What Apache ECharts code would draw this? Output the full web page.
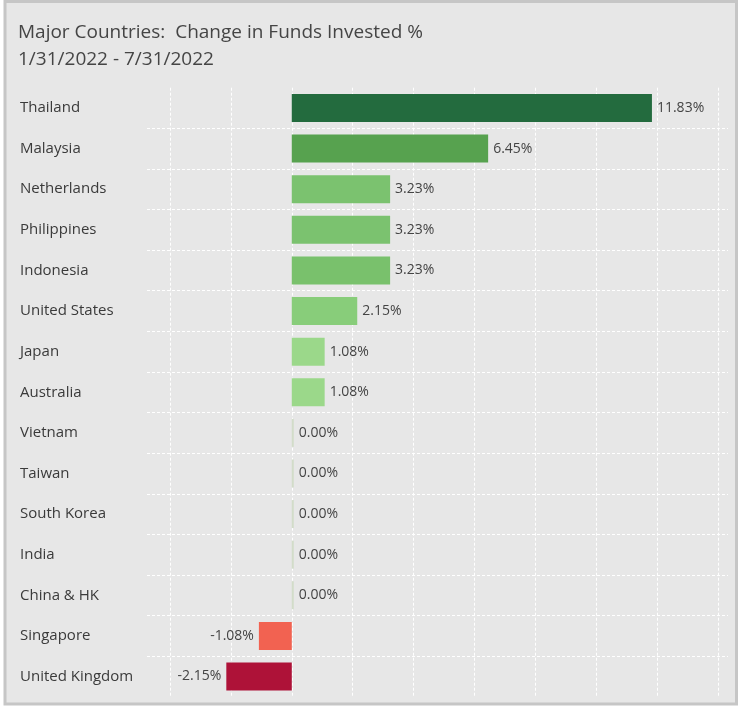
<!DOCTYPE html>
<html><head><meta charset="utf-8">
<script src="https://cdn.jsdelivr.net/npm/echarts@6/dist/echarts.min.js"></script>
<style>html,body{margin:0;padding:0;background:#ffffff;}#c{width:741px;height:707px;}</style>
</head><body><div id="c"></div>
<script>
const categories = ["Thailand","Malaysia","Netherlands","Philippines","Indonesia","United States","Japan","Australia","Vietnam","Taiwan","South Korea","India","China & HK","Singapore","United Kingdom"];
const values = [11.83,6.45,3.23,3.23,3.23,2.15,1.08,1.08,0,0,0,0,0,-1.08,-2.15];
const barColors = ["#236b3e","#57a24f","#7bc26f","#7bc26f","#79c16c","#88cd7a","#9bd88a","#9bd88a","#d2dcc9","#d2dcc9","#d2dcc9","#d2dcc9","#d2dcc9","#f26251","#ae1238"];
const titleLines = ["Major Countries:  Change in Funds Invested %","1/31/2022 - 7/31/2022"];

const FONT = "'Open Sans'";
const chart = echarts.init(document.getElementById('c'), null, {renderer:'canvas'});
const gridTop = 87.7, gridBottom = 10.2;
chart.setOption({
  backgroundColor: '#ffffff',
  animation: false,
  graphic: [
    {type:'rect', z:-10, shape:{x:5,y:1.5,width:731.5,height:702.5}, style:{fill:'#e7e7e7', stroke:'#c6c6c6', lineWidth:3}},
    {type:'text', left:18, top:23, style:{text:titleLines[0], font:'19px '+FONT, fill:'#454545'}},
    {type:'text', left:18, top:50, style:{text:titleLines[1], font:'19px '+FONT, fill:'#454545'}}
  ],
  grid: [
    {left:147, right:13, top:gridTop, bottom:gridBottom, containLabel:false},
    {left:170, right:23, top:gridTop, bottom:gridBottom, containLabel:false}
  ],
  xAxis: [
    {gridIndex:0, type:'value', show:false, min:0, max:1},
    {gridIndex:1, type:'value', min:-4, max:14, interval:2,
     axisLine:{show:false}, axisTick:{show:false}, axisLabel:{show:false},
     splitLine:{show:true, lineStyle:{color:'#ffffff', width:1, type:[3,2]}}}
  ],
  yAxis: [
    {gridIndex:0, type:'category', data:categories, inverse:true,
     axisLine:{show:false}, axisTick:{show:false},
     axisLabel:{align:'left', margin:127, fontFamily:FONT, fontSize:15, color:'#3a3a3a'},
     splitLine:{show:true, showMinLine:false, showMaxLine:false, lineStyle:{color:'#ffffff', width:1, type:[3,2]}}},
    {gridIndex:1, type:'category', data:categories, inverse:true, show:false}
  ],
  series: [{
    type:'bar', xAxisIndex:1, yAxisIndex:1, barWidth:28, barMinHeight:2,
    data: values.map((v,i)=>({value:v, itemStyle:{color:barColors[i]},
      label:{position: v<0 ? 'left' : 'right'}})),
    label:{show:true, distance:5, fontFamily:FONT, fontSize:14, color:'#444444',
      formatter: p => p.value.toFixed(2)+'%'}
  }]
});
</script></body></html>
